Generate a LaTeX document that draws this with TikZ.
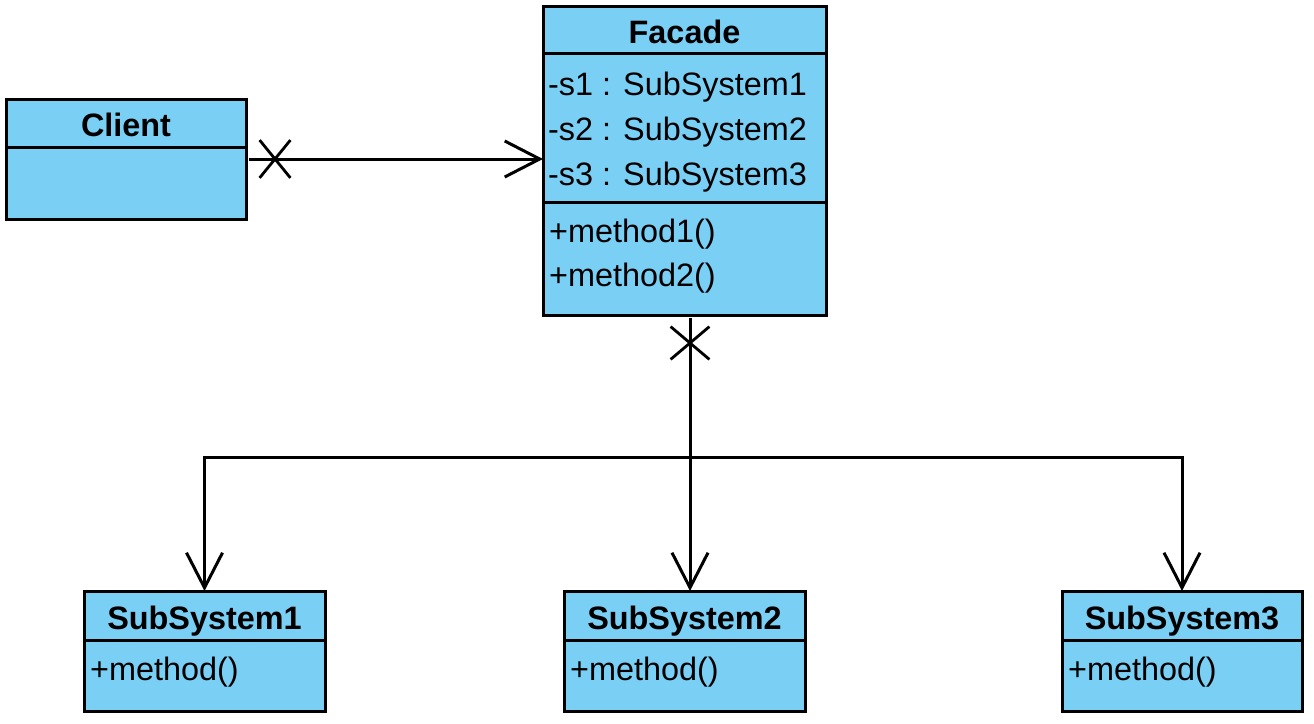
\documentclass[tikz,border=0pt]{standalone}
\usepackage{fontspec}
\setmainfont{Liberation Sans}
\usepackage{xcolor}
\usepackage{tikz}
\usetikzlibrary{positioning,arrows.meta,shapes.misc}
\definecolor{umlblue}{RGB}{122,207,245}

\begin{document}
\begin{tikzpicture}[x=1pt,y=-1pt,
  font=\fontsize{32.4pt}{40pt}\selectfont,
  box/.style={draw,fill=umlblue,line width=3pt,inner sep=0pt,outer sep=0pt,anchor=north west},
  head/.style={box,font=\fontsize{32.4pt}{40pt}\selectfont\bfseries,text height=30pt,text depth=3pt},
  member/.style={anchor=base west,inner sep=0pt},
  link/.style={line width=3pt},
  assoc/.style={link,-{Straight Barb[length=35pt,width=36pt]}},
  nav/.style={draw,cross out,line width=2.8pt,inner sep=0pt}]
\useasboundingbox (0,0) rectangle (1314,723);
% client
\node[head,minimum width=240pt,minimum height=48pt] (client) at (6,99) {Client};
\node[box,minimum width=240pt,minimum height=72pt,below=0pt of client] (clientbody) {};
% facade
\node[head,minimum width=283pt,minimum height=47pt] (facade) at (543,6) {Facade};
\node[box,minimum width=283pt,minimum height=149pt,below=0pt of facade] (facadeattr) {};
\node[box,minimum width=283pt,minimum height=113pt,below=0pt of facadeattr] (facadeops) {};
\node[member] (s1) at (548,95) {-s1 : SubSystem1};
\node[member] (s2) at (548,140) {-s2 : SubSystem2};
\node[member] (s3) at (548,185) {-s3 : SubSystem3};
\node[member] (m1) at (549,242) {+method1()};
\node[member] (m2) at (549,286) {+method2()};
% subsystems
\node[head,minimum width=241pt,minimum height=49pt] (sub1) at (84,591) {SubSystem1};
\node[box,minimum width=241pt,minimum height=71pt,below=0pt of sub1] (sub1body) {};
\node[member] (sub1m) at (90,680) {+method()};
\node[head,minimum width=241pt,minimum height=49pt] (sub2) at (564,591) {SubSystem2};
\node[box,minimum width=241pt,minimum height=71pt,below=0pt of sub2] (sub2body) {};
\node[member] (sub2m) at (570,680) {+method()};
\node[head,minimum width=240pt,minimum height=49pt] (sub3) at (1062,591) {SubSystem3};
\node[box,minimum width=240pt,minimum height=71pt,below=0pt of sub3] (sub3body) {};
\node[member] (sub3m) at (1068,680) {+method()};
% associations
\coordinate (ctail) at (249,159);
\node[nav,minimum width=28pt,minimum height=35pt] (cx1) at (275,159) {};
\draw[assoc] (ctail) -- (ctail -| facadeattr.west);
\coordinate (ftail) at (690,318);
\coordinate (bus) at (690,457);
\node[nav,minimum width=36pt,minimum height=30pt] (cx2) at (690,343) {};
\draw[link] (ftail) -- (bus);
\draw[assoc] (bus) -| (sub1.north);
\draw[assoc] (bus) -- (bus |- sub2.north);
\draw[assoc] (bus) -| (sub3.north);
\end{tikzpicture}
\end{document}
